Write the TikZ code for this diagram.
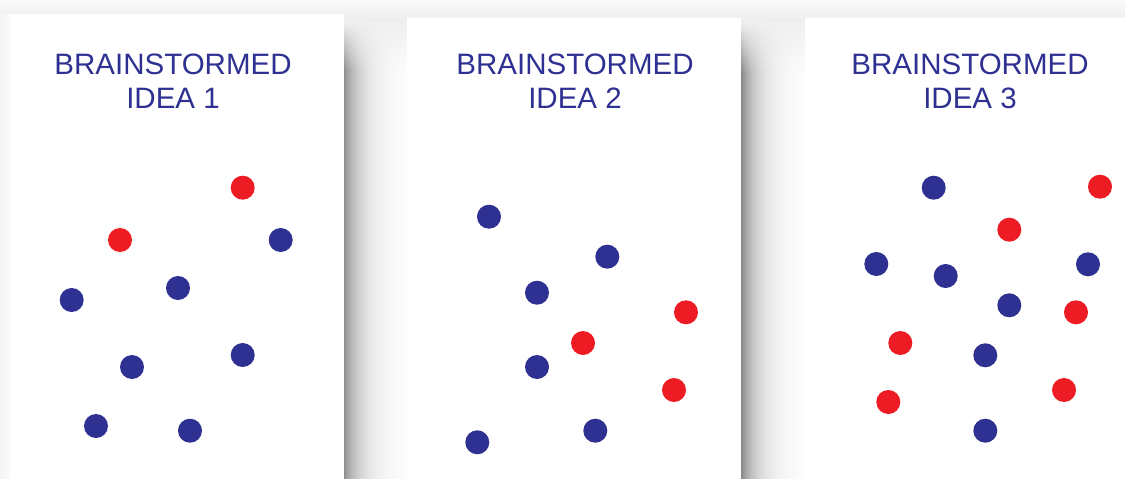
\documentclass[tikz,border=0pt]{standalone}
\usepackage{fontspec}
\setmainfont{Liberation Sans}
\definecolor{ideablue}{HTML}{2E3192}
\definecolor{idered}{HTML}{ED1C24}
\begin{document}
\begin{tikzpicture}[x=1pt,y=-1pt,
  card/.style={fill=white, draw=none, inner sep=0pt, anchor=north west,
    minimum width=334pt, minimum height=520pt},
  title/.style={text=ideablue, font=\fontsize{29.5}{34}\selectfont, align=center, anchor=base, inner sep=0pt},
  dot/.style={circle, minimum size=24pt, inner sep=0pt, draw=none},
  bdot/.style={dot, fill=ideablue},
  rdot/.style={dot, fill=idered}]
\useasboundingbox (0,0) rectangle (1125,479);
\clip (0,0) rectangle (1125,479);
% faint band at top and left
\shade[top color=black!2, bottom color=black!7] (0,0) rectangle (1125,22);
\shade[left color=black!4, right color=black!2] (0,14) rectangle (10,479);
% shadows to the right of the cards, built from 1pt columns
\foreach \i in {0,...,63}{
  \pgfmathsetmacro{\cg}{48*exp(-(\i+0.5)/17)}
  \shade[top color=black!6, bottom color=black!\cg] (343+\i,22) rectangle (344.3+\i,70.5);
  \fill[black!\cg] (343+\i,70) rectangle (344.3+\i,479);
  \shade[top color=black!6, bottom color=black!\cg] (741+\i,22) rectangle (742.3+\i,72.5);
  \fill[black!\cg] (741+\i,72) rectangle (742.3+\i,479);
}
% cards
\node[card] (card1) at (10,14) {};
\node[card] (card2) at (407,18) {};
\node[card] (card3) at (805,18) {};
% titles
\node[title] (t1) at (173,108) {BRAINSTORMED\\IDEA 1};
\node[title] (t2) at (575,108) {BRAINSTORMED\\IDEA 2};
\node[title] (t3) at (970,108) {BRAINSTORMED\\IDEA 3};
% card 1 dots
\node[rdot] (a1) at (242.7,187.7) {};
\node[rdot] (a2) at (120,240) {};
\node[bdot] (a3) at (280.7,240) {};
\node[bdot] (a4) at (178,288) {};
\node[bdot] (a5) at (71.7,300) {};
\node[bdot] (a6) at (242.7,355) {};
\node[bdot] (a7) at (132,367) {};
\node[bdot] (a8) at (96,426) {};
\node[bdot] (a9) at (190,430.7) {};
% card 2 dots
\node[bdot] (b1) at (489,216.7) {};
\node[bdot] (b2) at (607.3,256.7) {};
\node[bdot] (b3) at (537,292.7) {};
\node[rdot] (b4) at (686,312.3) {};
\node[rdot] (b5) at (583,343) {};
\node[bdot] (b6) at (537,367) {};
\node[rdot] (b7) at (674,390) {};
\node[bdot] (b8) at (595.3,430.7) {};
\node[bdot] (b9) at (477.3,442.3) {};
% card 3 dots
\node[bdot] (c1) at (933.7,187.7) {};
\node[rdot] (c2) at (1100,186.7) {};
\node[rdot] (c3) at (1009.3,229.7) {};
\node[bdot] (c4) at (876.3,264) {};
\node[bdot] (c5) at (945.7,276) {};
\node[bdot] (c6) at (1088,264.3) {};
\node[bdot] (c7) at (1009.3,305.3) {};
\node[rdot] (c8) at (1076,312.3) {};
\node[rdot] (c9) at (900.3,343) {};
\node[bdot] (c10) at (985.3,355.3) {};
\node[rdot] (c11) at (1064,390) {};
\node[rdot] (c12) at (888.3,402) {};
\node[bdot] (c13) at (985.3,430.7) {};
\end{tikzpicture}
\end{document}
